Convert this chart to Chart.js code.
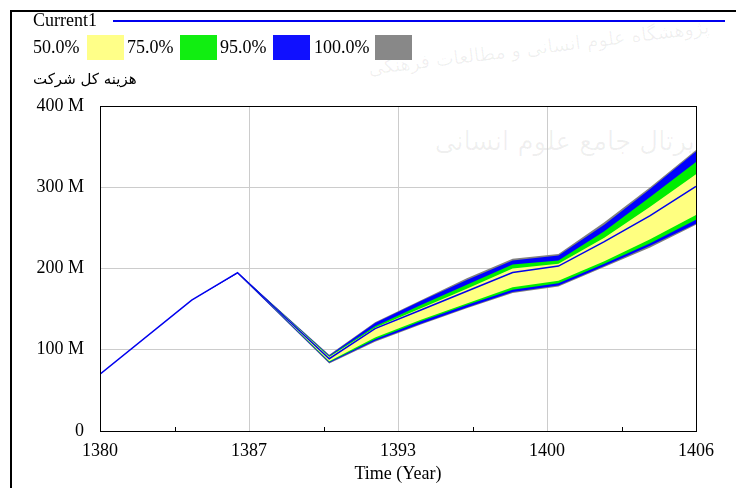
<!DOCTYPE html>
<html lang="en">
<head>
    <meta charset="UTF-8">
    <title>Sensitivity</title>
    <script src="https://cdn.jsdelivr.net/npm/chart.js"></script>
    <style>
        body { margin: 0; background: #fff; font-family: "Liberation Serif", serif; }
        #wrap { position: relative; width: 736px; height: 488px; overflow: hidden; }
        #frame { position: absolute; left: 10px; top: 10px; right: -5px; bottom: -5px; border-top: 2px solid #000; border-left: 2px solid #000; }
        .t { position: absolute; font-size: 18px; color: #000; line-height: 20px; white-space: nowrap; }
        .sw { position: absolute; top: 35px; width: 37px; height: 25px; }
        .wm { position: absolute; color: rgba(0,0,0,0.06); font-family: "DejaVu Sans", sans-serif; white-space: nowrap; direction: rtl; text-align: right; }
        canvas { position: absolute; left: 0; top: 0; }
    </style>
</head>
<body>
<div id="wrap">
    <div class="wm" style="left:400px; width:310px; top:34px; font-size:19px; transform: rotate(-7deg);">پژوهشگاه علوم انسانی و مطالعات فرهنگی</div>
    <div class="wm" style="left:470px; width:225px; top:126px; font-size:26px;">پرتال جامع علوم انسانی</div>
    <div id="frame"></div>
    <canvas id="chart" width="736" height="488"></canvas>
    <div class="t" style="left:33px; top:10px;">Current1</div>
    <div style="position:absolute; left:113px; top:20px; width:612px; height:1.5px; background:#0000ee;"></div>
    <div class="t" style="left:33px; top:37px;">50.0%</div>
    <div class="sw" style="left:87px; background:#ffff88;"></div>
    <div class="t" style="left:127px; top:37px;">75.0%</div>
    <div class="sw" style="left:180px; background:#11ee11;"></div>
    <div class="t" style="left:220px; top:37px;">95.0%</div>
    <div class="sw" style="left:273px; background:#1010ff;"></div>
    <div class="t" style="left:314px; top:37px;">100.0%</div>
    <div class="sw" style="left:375px; background:#888888;"></div>
    <div class="t" style="left:33px; top:69px; font-family:'DejaVu Sans', sans-serif; font-size:15px; direction:rtl;">هزینه کل شرکت</div>
</div>

<script>
    // values in millions
    const years = [1380, 1384, 1386, 1390, 1392, 1394, 1396, 1398, 1400, 1402, 1404, 1406];
    const current1 = [70, 161, 195, 89, 126, 149, 172, 195, 203, 233, 265, 301];
    const p100Hi = [70, 161, 195, 94, 134, 161, 188, 212, 218, 257, 300, 346];
    const p95Hi  = [70, 161, 195, 93, 133, 160, 186, 210, 216, 254, 298, 344];
    const p75Hi  = [70, 161, 195, 92, 129, 155, 180, 205, 210, 246, 288, 331];
    const p50Hi  = [70, 161, 195, 91, 127, 151, 175, 200, 206, 238, 276, 316];
    const p50Lo  = [70, 161, 195, 86, 115, 137, 157, 177, 185, 209, 236, 266];
    const p75Lo  = [70, 161, 195, 85, 113, 135, 155, 174, 182, 206, 231, 260];
    const p95Lo  = [70, 161, 194, 84, 111, 132, 152, 171, 179, 203, 228, 255];
    const p100Lo = [70, 161, 194, 83, 110, 131, 151, 170, 178, 202, 226, 254];
    const yTicks = [0, 100, 200, 300, 400];

    const pts = arr => arr.map((v, i) => ({ x: years[i], y: v }));

    function band(lo, hi, color) {
        return [
            { data: pts(lo), borderWidth: 0, borderColor: 'rgba(0,0,0,0)', pointRadius: 0, fill: false },
            { data: pts(hi), borderWidth: 0, borderColor: 'rgba(0,0,0,0)', pointRadius: 0, fill: '-1', backgroundColor: color }
        ];
    }

    const frameBox = {
        id: 'frameBox',
        afterDraw(chart) {
            const { ctx, chartArea: a, scales } = chart;
            ctx.save();
            ctx.strokeStyle = '#000';
            ctx.lineWidth = 1;
            ctx.strokeRect(a.left + 0.5, a.top + 0.5, a.right - a.left, a.bottom - a.top);
            // small minor ticks on the time axis
            const x = scales.x;
            for (let v = 1380 + 3.25; v < 1406; v += 6.5) {
                const px = Math.round(x.getPixelForValue(v)) + 0.5;
                ctx.beginPath();
                ctx.moveTo(px, a.bottom);
                ctx.lineTo(px, a.bottom - 4);
                ctx.stroke();
            }
            ctx.restore();
        }
    };

    new Chart(document.getElementById('chart').getContext('2d'), {
        type: 'line',
        data: {
            datasets: [
                ...band(p50Lo, p50Hi, '#ffff80'),
                ...band(p75Lo, p75Hi, '#00ee00'),
                ...band(p95Lo, p95Hi, '#0000ff'),
                ...band(p100Lo, p100Hi, '#808080'),
                { data: pts(current1), borderColor: '#0000ee', borderWidth: 1.5, pointRadius: 0, fill: false, order: -1 }
            ]
        },
        options: {
            responsive: false,
            animation: false,
            devicePixelRatio: 1,
            layout: { padding: { left: 0, right: 40, top: 106, bottom: 0 } },
            plugins: { legend: { display: false }, tooltip: { enabled: false } },
            scales: {
                x: {
                    type: 'linear',
                    min: 1380,
                    max: 1406,
                    afterFit: s => { s.height = 57; },
                    ticks: {
                        stepSize: 6.5,
                        autoSkip: false,
                        maxRotation: 0,
                        padding: 9,
                        color: '#000',
                        font: { family: 'Liberation Serif', size: 18 },
                        callback: v => Math.round(v)
                    },
                    grid: { color: '#cccccc', drawTicks: false },
                    border: { color: '#000' },
                    title: { display: true, text: 'Time (Year)', color: '#000', font: { family: 'Liberation Serif', size: 18 }, padding: { top: 0, bottom: 3 } }
                },
                y: {
                    min: 0,
                    max: 400,
                    afterFit: s => { s.width = 100; },
                    afterBuildTicks: s => { s.ticks = yTicks.map(v => ({ value: v })); },
                    ticks: {
                        padding: 16,
                        color: '#000',
                        font: { family: 'Liberation Serif', size: 18 },
                        callback: v => v === 0 ? '0' : v + ' M'
                    },
                    grid: { color: '#cccccc', drawTicks: false },
                    border: { color: '#000' }
                }
            }
        },
        plugins: [frameBox]
    });
</script>
</body>
</html>
